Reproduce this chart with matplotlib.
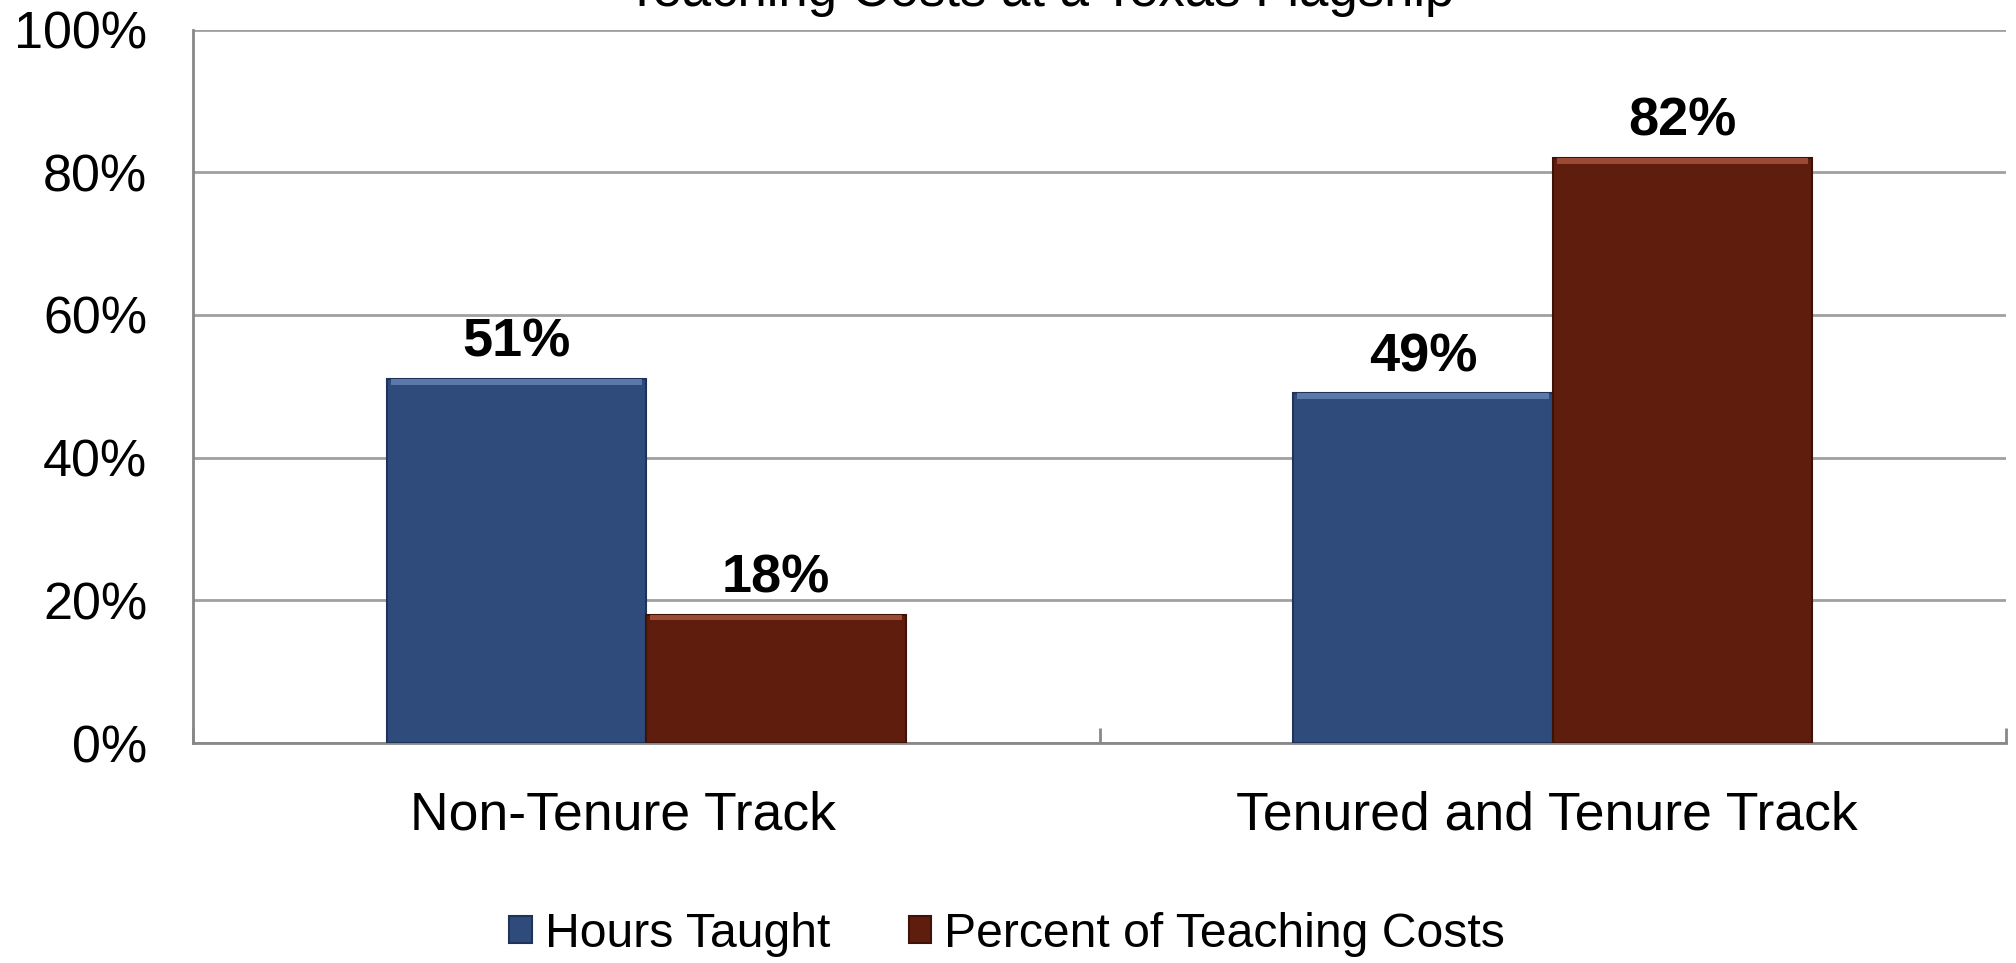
import matplotlib
matplotlib.use("Agg")
import matplotlib.pyplot as plt
import numpy as np

categories = ["Non-Tenure Track", "Tenured and Tenure Track"]
series_names = ["Hours Taught", "Percent of Teaching Costs"]
hours_taught = [51, 49]
teaching_costs = [18, 82]
y_ticks = [0, 20, 40, 60, 80, 100]
y_tick_labels = ["0%", "20%", "40%", "60%", "80%", "100%"]
title = "Teaching Costs at a Texas Flagship"

colors = ["#2F4B7C", "#5F1D0D"]
highlights = ["#5A78AA", "#9A4A35"]
edges = ["#1E3358", "#3E1207"]

plt.rcParams["font.family"] = ["Liberation Sans", "DejaVu Sans"]

fig = plt.figure(figsize=(20.16, 9.63), dpi=100)
ax = fig.add_axes([193 / 2016, 1 - 743 / 963, (2006 - 193) / 2016, (743 - 29.6) / 963])

x = np.arange(len(categories))
w = 0.286
series = [hours_taught, teaching_costs]
offsets = [-w / 2, w / 2]
for vals, off, c, hc, ec, name in zip(series, offsets, colors, highlights, edges, series_names):
    ax.bar(x + off, vals, width=w, color=c, edgecolor=ec, linewidth=1.5, label=name, zorder=3)
    # bevel highlight along the top edge
    ax.bar(x + off, [0.8] * len(vals), bottom=[v - 0.8 for v in vals], width=w * 0.97,
           color=hc, linewidth=0, zorder=4)
    for xi, v in zip(x + off, vals):
        ax.annotate(f"{v}%", (xi, v), xytext=(0, 16), textcoords="offset points",
                    ha="center", va="baseline", fontsize=39, fontweight="bold", color="black")

ax.set_xlim(-0.5, len(categories) - 0.5)
ax.set_ylim(0, 100)
ax.set_yticks(y_ticks)
ax.set_yticklabels(y_tick_labels, fontsize=37.5)
ax.tick_params(axis="y", length=0, pad=33)
ax.yaxis.grid(True, color="#A0A0A0", linewidth=2, zorder=0)

# category labels (drawn as text so each can sit where the reference has it)
ax.set_xticks(x)
ax.set_xticklabels([])
ax.tick_params(axis="x", length=0)
label_shift_pts = [-17, -4]
for xi, lab, sh in zip(x, categories, label_shift_pts):
    ax.annotate(lab, (xi, 0), xycoords=("data", "axes fraction"), xytext=(sh, -62),
                textcoords="offset points", ha="center", va="baseline", fontsize=38.5)

# category separator ticks (pointing up)
ax.set_xticks(np.arange(len(categories) + 1) - 0.5, minor=True)
ax.tick_params(axis="x", which="minor", direction="in", length=11, width=2, color="#888888")

for s in ["top", "right"]:
    ax.spines[s].set_visible(False)
for s in ["left", "bottom"]:
    ax.spines[s].set_color("#888888")
    ax.spines[s].set_linewidth(2)

fig.text(1040 / 2016, 1 - 6 / 963, title, ha="center", va="baseline", fontsize=38)

leg = fig.legend(loc="center", bbox_to_anchor=(1007 / 2016, 1 - 934 / 963), ncol=2,
                 frameon=False, fontsize=34.7, handlelength=0.46, handleheight=0.5,
                 handletextpad=0.27, columnspacing=1.63)

fig.savefig("out.png", dpi=100)
